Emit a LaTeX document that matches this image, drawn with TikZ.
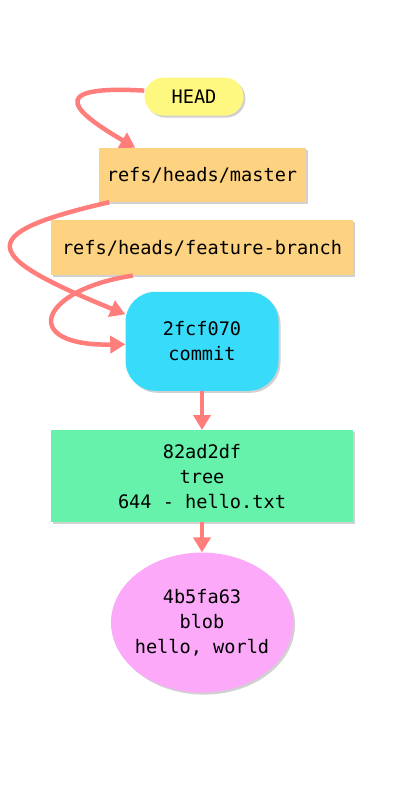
\documentclass[tikz,border=0pt]{standalone}
\usepackage{fontspec}
\setmonofont{DejaVu Sans Mono}
\usetikzlibrary{positioning,shadows,arrows.meta,shapes.geometric}
\definecolor{headyellow}{HTML}{FFF880}
\definecolor{refsorange}{HTML}{FDD281}
\definecolor{commitcyan}{HTML}{38DCFA}
\definecolor{treegreen}{HTML}{66F2AA}
\definecolor{blobpink}{HTML}{FBA9F8}
\definecolor{pointer}{HTML}{FF7D7B}

\begin{document}
\begin{tikzpicture}[x=1pt, y=1pt,
    every node/.style={font=\ttfamily\fontsize{18.6}{25}\selectfont, align=center, inner sep=0pt,
      drop shadow={shadow xshift=2pt, shadow yshift=-2pt, opacity=0.3, fill=black!60}},
    headnode/.style={fill=headyellow, rounded corners=19pt, minimum width=99pt, minimum height=38pt},
    refnode/.style={fill=refsorange, minimum height=55pt},
    commitnode/.style={fill=commitcyan, rounded corners=30pt, minimum width=153pt, minimum height=99pt},
    treenode/.style={fill=treegreen, minimum width=302pt, minimum height=92pt},
    blobnode/.style={ellipse, fill=blobpink, inner sep=-4pt, minimum width=182pt, minimum height=140pt},
    link/.style={draw=pointer, line width=4.5pt, -{Triangle[length=15pt, width=17pt]}},
  ]
  \useasboundingbox (0,0) rectangle (400,-800);
  \node [refnode, minimum width=207pt, minimum height=54pt] (master) at (202,-175) {refs/heads/master};
  \node [headnode, above=32pt of master, xshift=-8pt] (head) {HEAD};
  \node [refnode, minimum width=302pt, below=18pt of master] (feature) {refs/heads/feature-branch};
  \node [commitnode, below=16pt of feature] (commit) {2fcf070\\commit};
  \node [treenode, below=39pt of commit] (tree) {82ad2df\\tree\\644 - hello.txt};
  \node [blobnode, below=30pt of tree] (blob) {4b5fa63\\blob\\hello, world};
  \draw [link] ([yshift=6pt]head.west) .. controls +(-106,6) and +(-56,33) .. ([xshift=37pt]master.north west);
  \draw [link] ([xshift=11pt]master.south west) .. controls +(-140,-32) and +(-142,58) .. ([yshift=27pt]commit.west);
  \draw [link] ([xshift=82pt]feature.south west) .. controls +(-94,-14) and +(-107,-2) .. ([yshift=-3pt]commit.west);
  \draw [link] (commit) -- (tree);
  \draw [link] (tree) -- (blob);
\end{tikzpicture}
\end{document}
